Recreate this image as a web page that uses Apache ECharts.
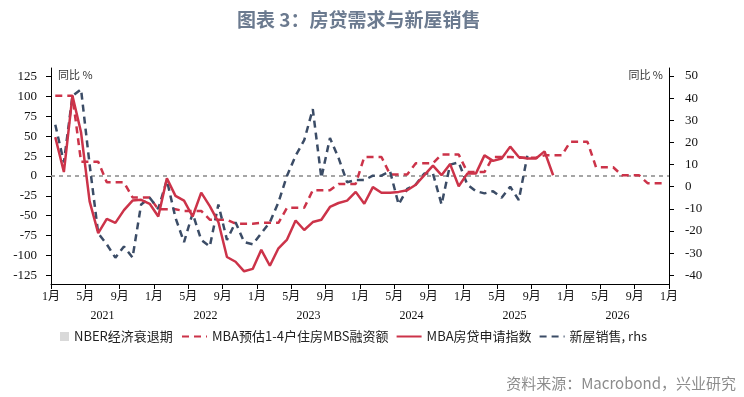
<!DOCTYPE html>
<html>
<head>
<meta charset="utf-8">
<title>房贷需求与新屋销售</title>
<script src="https://cdn.jsdelivr.net/npm/echarts@6.0.0/dist/echarts.min.js"></script>
<style>
  html, body { margin: 0; padding: 0; background: #fff; }
  #chart { width: 744px; height: 397px; }
</style>
</head>
<body>
<div id="chart"></div>
<script>
// 横轴：从 2021年1月 起按月编号，刻度每 4 个月一个
const monthLabels = ["1月", "5月", "9月"];
const yearLabels = ["2021", "2022", "2023", "2024", "2025", "2026"];
const leftTicks = [-125, -100, -75, -50, -25, 0, 25, 50, 75, 100, 125];
const rightTicks = [-40, -30, -20, -10, 0, 10, 20, 30, 40, 50];

// MBA预估1-4户住房MBS融资额（同比 %，季度值，每月一个点）
const mbsForecast = [
  101, 101, 101, 18, 18, 18, -8, -8, -8, -27, -27, -27,
  -42, -42, -42, -44, -44, -44, -55, -55, -55, -60, -60, -60,
  -59, -59, -59, -40, -40, -40, -18, -18, -18, -10, -10, -10,
  24, 24, 24, 2, 2, 2, 16, 16, 16, 27, 27, 27,
  5, 5, 5, 24, 24, 24, 23, 23, 23, 26, 26, 26,
  43, 43, 43, 11, 11, 11, 1, 1, 1, -9, -9, -9,
];

// MBA房贷申请指数（同比 %）
const mortgageApps = [
  49, 5, 101, 55, -32, -72, -54, -59, -43, -31, -30, -35,
  -51, -3, -25, -31, -51, -21, -38, -58, -102, -108, -120, -117,
  -93, -113, -91, -80, -56, -68, -58, -55, -39, -34, -31, -20,
  -35, -14, -21, -21, -20, -18, -11, 1, 13, 1, 15, -13,
  3, 3, 26, 19, 22, 37, 24, 22, 22, 31, 1,
];

// 新屋销售（同比 %，rhs）
const newHomeSales = [
  28, 11, 41, 44, 10, -21, -26, -32, -27, -32, -8, -5,
  -10, 3, -14, -25, -12, -24, -27, -8, -24, -16, -25, -26,
  -21, -16, -7, 5, 14, 21, 35, 4, 22, 13, 2, 3,
  3, 5, 5, 7, -8, -1, 1, 6, 6, -8, 10, 11,
  1, -2, -3, -2, -5, 0, -6, 14,
];

const red = "#cc3349";
const blue = "#3b4c66";
const serif = "'Liberation Serif', 'Noto Sans CJK SC', serif";
const cjk = "'Noto Sans CJK SC', sans-serif";

// 数据点放在月中
function toPoints(arr) {
  return arr.map((v, i) => [i + 0.5, v]);
}

function initChart() {
  const chartInstance = echarts.init(document.getElementById("chart"));
  const option = {
    animation: false,
    title: {
      text: "图表 3：房贷需求与新屋销售",
      left: 232,
      top: 5,
      textStyle: {
        color: "#6b7a8f",
        fontSize: 19,
        fontWeight: "bold",
        fontFamily: cjk,
      },
    },
    grid: {
      left: 51,
      right: 75,
      top: 68,
      bottom: 113,
      containLabel: false,
    },
    legend: [
      {
        left: 55,
        top: 325,
        itemWidth: 9,
        itemHeight: 9,
        data: [{ name: "NBER经济衰退期", icon: "rect" }],
        textStyle: { color: "#222", fontSize: 13, fontFamily: cjk },
      },
      {
        left: 176,
        top: 325,
        itemWidth: 25,
        itemHeight: 10,
        itemGap: 7,
        // 图例只画线，不画圆点
        itemStyle: { opacity: 0 },
        data: ["MBA预估1-4户住房MBS融资额", "MBA房贷申请指数", "新屋销售, rhs"],
        textStyle: { color: "#222", fontSize: 13, fontFamily: cjk },
      },
    ],
    graphic: [
      {
        type: "text",
        x: 58,
        y: 75,
        style: {
          text: "同比 %",
          fill: "#333",
          font: "11px " + cjk,
          verticalAlign: "middle",
        },
      },
      {
        type: "text",
        x: 663,
        y: 75,
        style: {
          text: "同比 %",
          fill: "#333",
          font: "11px " + cjk,
          align: "right",
          verticalAlign: "middle",
        },
      },
      {
        type: "text",
        x: 736,
        y: 383,
        style: {
          text: "资料来源：Macrobond，兴业研究",
          fill: "#8c8c8c",
          font: "15px " + cjk,
          align: "right",
          verticalAlign: "middle",
        },
      },
    ],
    xAxis: [
      {
        type: "value",
        min: 0,
        max: 72,
        interval: 4,
        axisLine: { show: true, onZero: false, lineStyle: { color: "#000", width: 1 } },
        axisTick: { show: true, length: 5, lineStyle: { color: "#000" } },
        splitLine: { show: false },
        axisLabel: {
          color: "#111",
          fontSize: 12,
          fontFamily: serif,
          margin: 7,
          showMinLabel: true,
          showMaxLabel: true,
          formatter: (v) => monthLabels[(v % 12) / 4],
        },
      },
      {
        type: "value",
        position: "bottom",
        min: 0,
        max: 72,
        axisLine: { show: false },
        axisTick: { show: false },
        splitLine: { show: false },
        axisLabel: {
          color: "#111",
          fontSize: 12,
          fontFamily: serif,
          margin: 26,
          customValues: yearLabels.map((y, k) => k * 12 + 6),
          formatter: (v) => yearLabels[(v - 6) / 12],
        },
      },
    ],
    yAxis: [
      {
        type: "value",
        min: -136,
        max: 136,
        axisLine: { show: true, onZero: false, lineStyle: { color: "#000" } },
        axisTick: { show: true, length: 5, customValues: leftTicks, lineStyle: { color: "#000" } },
        splitLine: { show: false },
        axisLabel: {
          color: "#111",
          fontSize: 13,
          fontFamily: serif,
          margin: 14,
          customValues: leftTicks,
        },
      },
      {
        type: "value",
        position: "right",
        min: -43.9,
        max: 53.6,
        axisLine: { show: true, onZero: false, lineStyle: { color: "#000" } },
        axisTick: { show: true, length: 5, customValues: rightTicks, lineStyle: { color: "#000" } },
        splitLine: { show: false },
        axisLabel: {
          color: "#111",
          fontSize: 13,
          fontFamily: serif,
          margin: 16,
          customValues: rightTicks,
        },
      },
    ],
    series: [
      {
        name: "NBER经济衰退期",
        type: "bar",
        color: "#d9d9d9",
        data: [],
      },
      {
        name: "MBA预估1-4户住房MBS融资额",
        type: "line",
        color: red,
        symbol: "none",
        z: 3,
        lineStyle: { width: 2.5, type: [7, 5] },
        data: toPoints(mbsForecast),
      },
      {
        name: "MBA房贷申请指数",
        type: "line",
        color: red,
        symbol: "none",
        z: 5,
        lineStyle: { width: 2.5 },
        data: toPoints(mortgageApps),
        // 0 轴虚线
        markLine: {
          silent: true,
          symbol: "none",
          label: { show: false },
          lineStyle: { color: "#888", width: 1.5, type: [4, 4] },
          data: [{ yAxis: 0 }],
          z: 1,
        },
      },
      {
        name: "新屋销售, rhs",
        type: "line",
        yAxisIndex: 1,
        color: blue,
        symbol: "none",
        z: 4,
        lineStyle: { width: 2.5, type: [7, 5] },
        data: toPoints(newHomeSales),
      },
    ],
  };
  chartInstance.setOption(option);
}

initChart();
</script>
</body>
</html>
